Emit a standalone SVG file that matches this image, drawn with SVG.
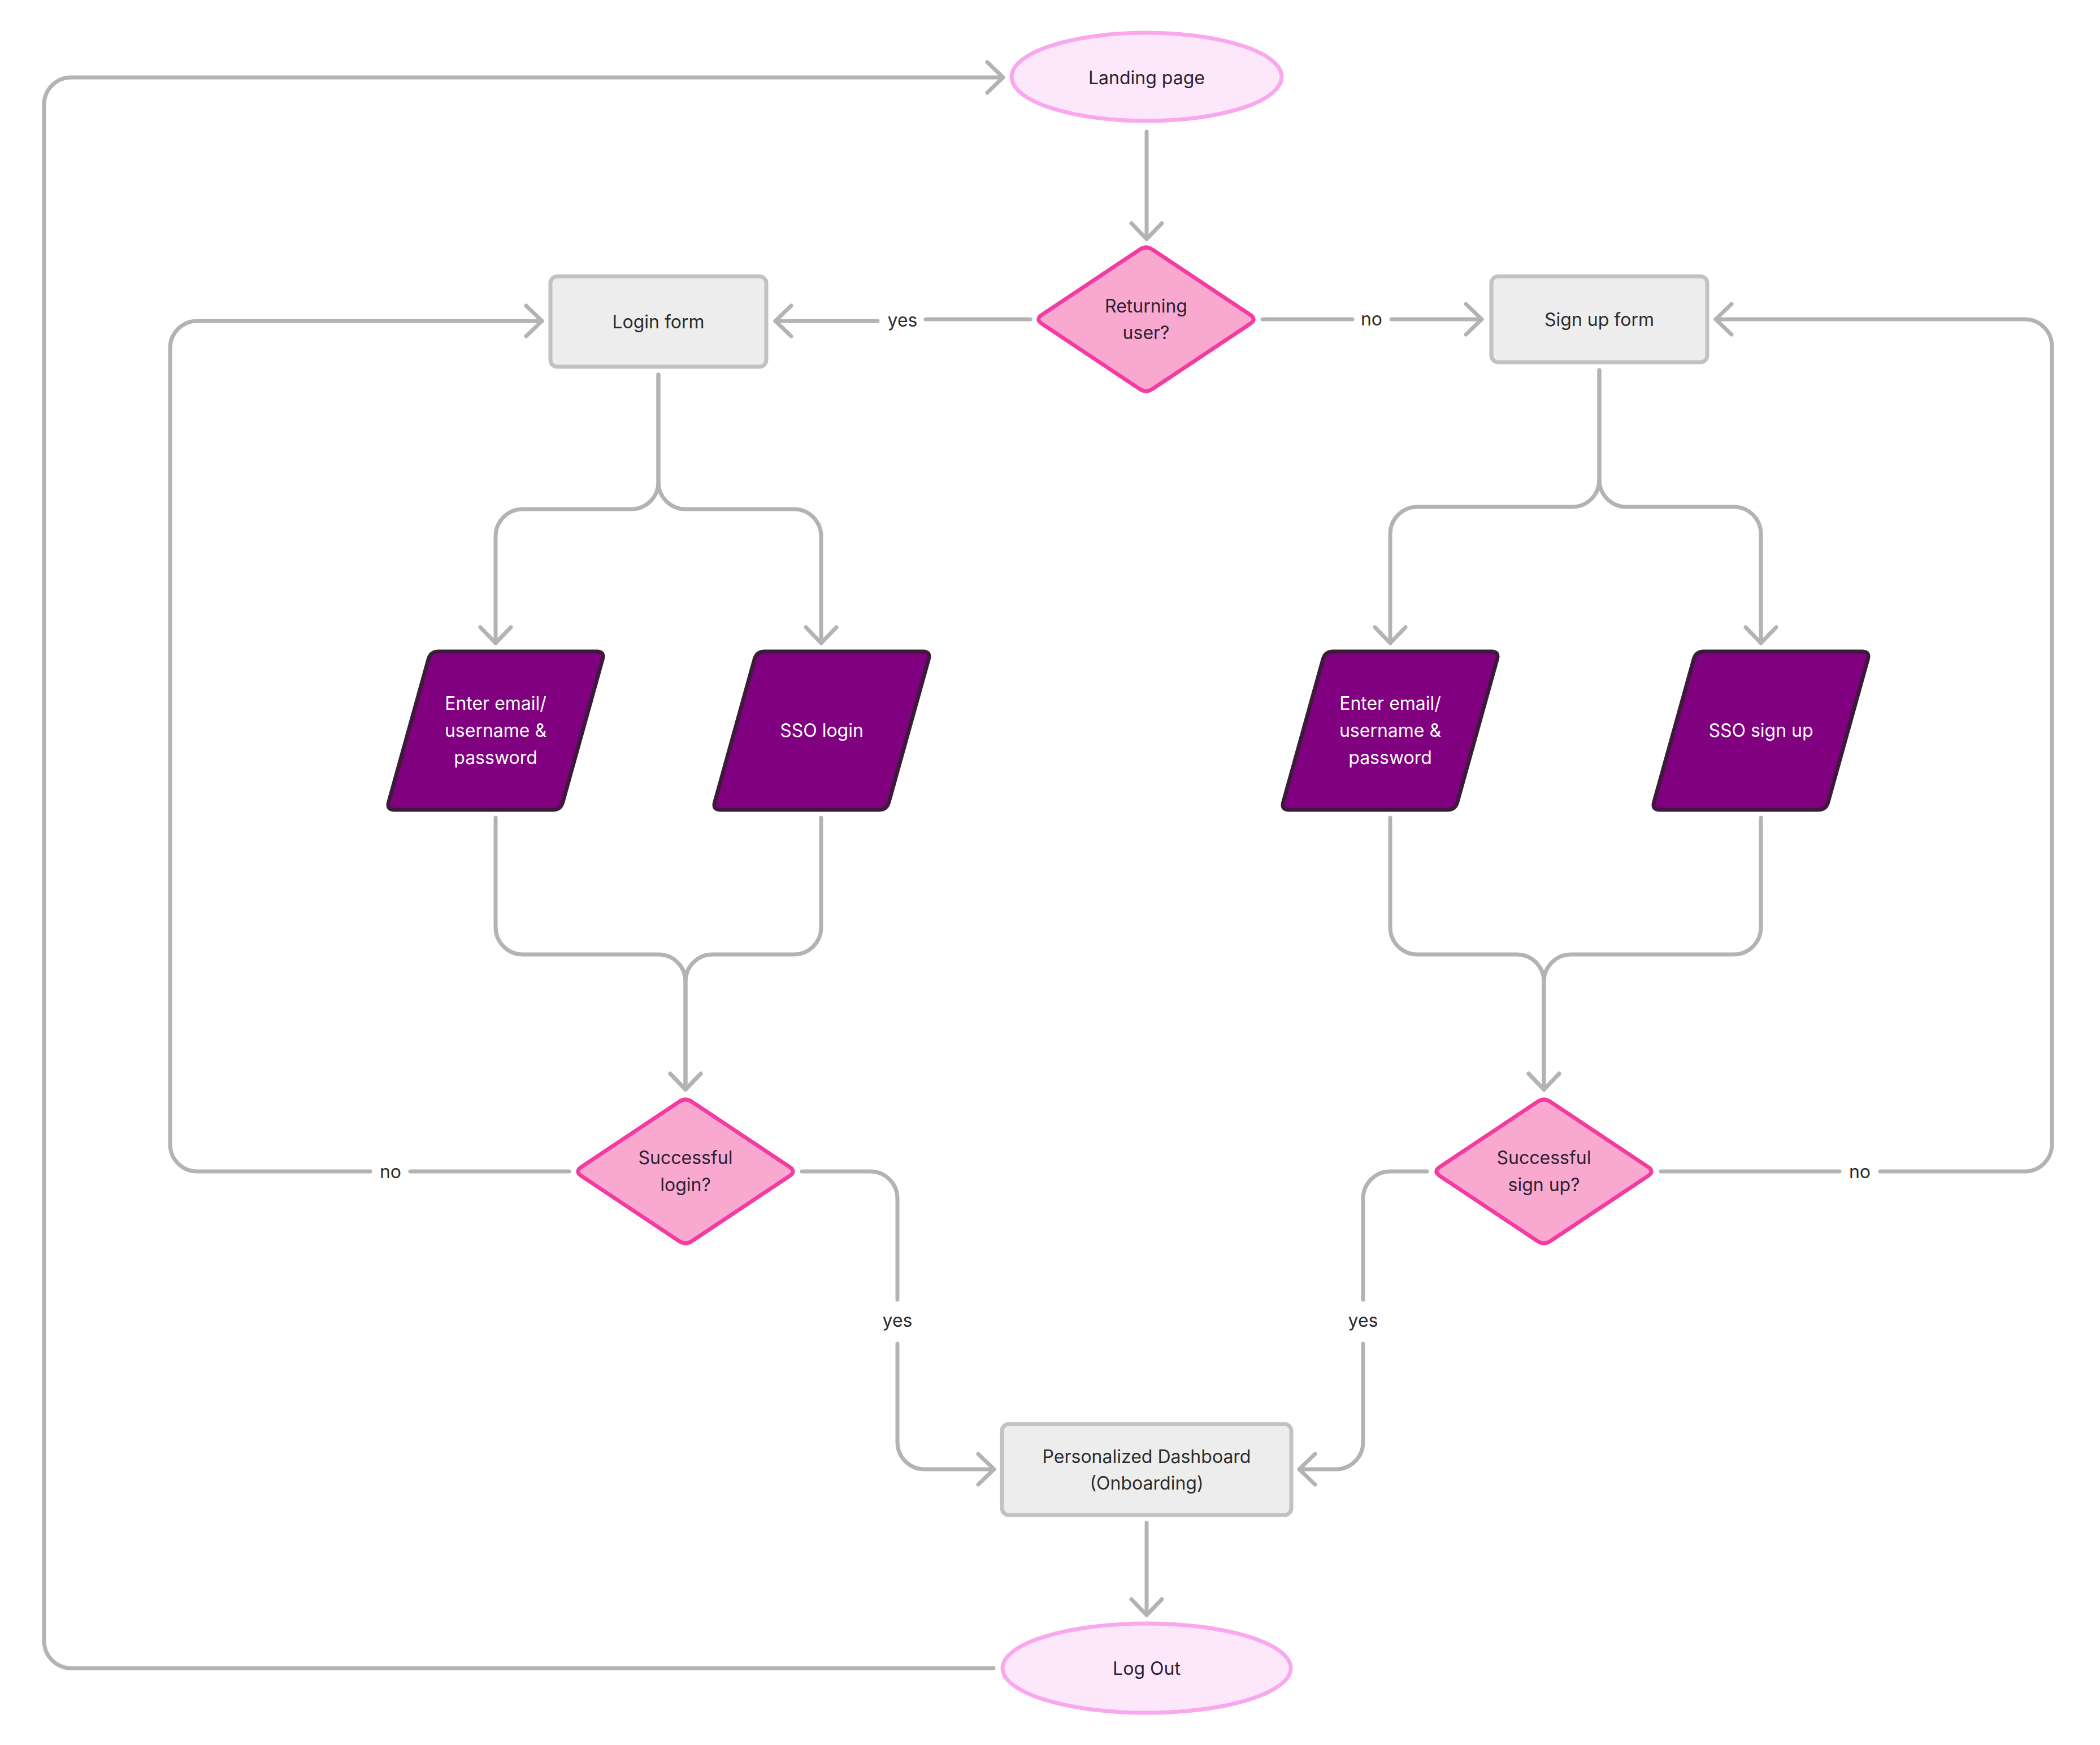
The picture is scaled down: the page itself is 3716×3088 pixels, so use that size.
<svg xmlns="http://www.w3.org/2000/svg" width="3716" height="3088" viewBox="0 0 3716 3088">
  <style>
    .conn { fill: none; stroke: #B3B3B3; stroke-width: 7; stroke-linecap: round; stroke-linejoin: round; }
    .arrow { marker-end: url(#chevron); }
    .terminal { fill: #FDE7FB; stroke: #FAA8EE; stroke-width: 7; }
    .decision { fill: #F9A8D0; stroke: #F43BA2; stroke-width: 7; stroke-linejoin: round; }
    .process { fill: #EDEDED; stroke: #C2C2C2; stroke-width: 7; }
    .input { fill: #800080; stroke: #3D1A3C; stroke-width: 7; stroke-linejoin: round; }
    text { font-family: Inter, "Noto Sans", "Liberation Sans", sans-serif; font-size: 32px; text-anchor: middle; }
    .dark { fill: #2B2B2B; }
    .pinkText { fill: #2C2130; }
    .light { fill: #FFFFFF; }
    .label { fill: #2B2B2B; }
  </style>
  <defs>
    <marker id="chevron" markerUnits="userSpaceOnUse" viewBox="-40 -40 80 80" markerWidth="80" markerHeight="80" refX="0" refY="0" orient="auto" overflow="visible">
      <path d="M -28,-27 L 0,0 L -28,27" fill="none" stroke="#B3B3B3" stroke-width="7" stroke-linecap="round" stroke-linejoin="round"/>
    </marker>
    <path id="diamondShape" d="M 11.6,-123.2 L 184.4,-7.8 Q 196,0 184.4,7.8 L 11.6,123.2 Q 0,131 -11.6,123.2 L -184.4,7.8 Q -196,0 -184.4,-7.8 L -11.6,-123.2 Q 0,-131 11.6,-123.2 Z"/>
    <path id="paraShape" d="M -101,-140 L 179,-140 Q 193,-140 189.2,-126.5 L 118.8,126.5 Q 115,140 101,140 L -179,140 Q -193,140 -189.2,126.5 L -118.8,-126.5 Q -115,-140 -101,-140 Z"/>
  </defs>

  <rect width="3716" height="3088" fill="#FFFFFF"/>

  <!-- connectors -->
  <g id="connectors">
    <!-- landing page to returning user -->
    <path class="conn arrow" d="M 2029,233 V 423"/>
    <!-- returning user: yes -> login form -->
    <path class="conn" d="M 1823,565 H 1638"/>
    <path class="conn arrow" d="M 1553,568 H 1372"/>
    <!-- returning user: no -> sign up form -->
    <path class="conn" d="M 2234,565 H 2393"/>
    <path class="conn arrow" d="M 2462,565 H 2622"/>
    <!-- login form split -->
    <path class="conn arrow" d="M 1165,663 V 853 A 48 48 0 0 1 1117,901 H 925 A 48 48 0 0 0 877,949 V 1138"/>
    <path class="conn arrow" d="M 1165,663 V 853 A 48 48 0 0 0 1213,901 H 1405 A 48 48 0 0 1 1453,949 V 1138"/>
    <!-- sign up form split -->
    <path class="conn arrow" d="M 2830,655 V 849 A 48 48 0 0 1 2782,897 H 2508 A 48 48 0 0 0 2460,945 V 1138"/>
    <path class="conn arrow" d="M 2830,655 V 849 A 48 48 0 0 0 2878,897 H 3068 A 48 48 0 0 1 3116,945 V 1138"/>
    <!-- login inputs merge -->
    <path class="conn arrow" d="M 877,1447 V 1641 A 48 48 0 0 0 925,1689 H 1165 A 48 48 0 0 1 1213,1737 V 1928"/>
    <path class="conn arrow" d="M 1453,1447 V 1641 A 48 48 0 0 1 1405,1689 H 1261 A 48 48 0 0 0 1213,1737 V 1928"/>
    <!-- sign up inputs merge -->
    <path class="conn arrow" d="M 2460,1447 V 1641 A 48 48 0 0 0 2508,1689 H 2684 A 48 48 0 0 1 2732,1737 V 1928"/>
    <path class="conn arrow" d="M 3116,1447 V 1641 A 48 48 0 0 1 3068,1689 H 2780 A 48 48 0 0 0 2732,1737 V 1928"/>
    <!-- successful login: no -> back to login form -->
    <path class="conn" d="M 1007,2073 H 726"/>
    <path class="conn arrow" d="M 655,2073 H 349 A 48 48 0 0 1 301,2025 V 616 A 48 48 0 0 1 349,568 H 959"/>
    <!-- successful login: yes -> dashboard -->
    <path class="conn" d="M 1419,2073 H 1540 A 48 48 0 0 1 1588,2121 V 2300"/>
    <path class="conn arrow" d="M 1588,2378 V 2552 A 48 48 0 0 0 1636,2600 H 1759"/>
    <!-- successful sign up: yes -> dashboard -->
    <path class="conn" d="M 2525,2073 H 2460 A 48 48 0 0 0 2412,2121 V 2300"/>
    <path class="conn arrow" d="M 2412,2378 V 2552 A 48 48 0 0 1 2364,2600 H 2299"/>
    <!-- successful sign up: no -> back to sign up form -->
    <path class="conn" d="M 2939,2073 H 3255"/>
    <path class="conn arrow" d="M 3327,2073 H 3583 A 48 48 0 0 0 3631,2025 V 613 A 48 48 0 0 0 3583,565 H 3036"/>
    <!-- dashboard to log out -->
    <path class="conn arrow" d="M 2029,2695 V 2858"/>
    <!-- log out back to landing page -->
    <path class="conn arrow" d="M 1758,2952 H 126 A 48 48 0 0 1 78,2904 V 185 A 48 48 0 0 1 126,137 H 1775"/>

    <!-- edge labels -->
    <text class="label" x="1597" y="578">yes</text>
    <text class="label" x="2427" y="576">no</text>
    <text class="label" x="691" y="2085">no</text>
    <text class="label" x="3291" y="2085">no</text>
    <text class="label" x="1588" y="2348">yes</text>
    <text class="label" x="2412" y="2348">yes</text>
  </g>

  <!-- nodes -->
  <g id="landing-page">
    <ellipse class="terminal" cx="2029" cy="136" rx="239" ry="78"/>
    <text class="pinkText" x="2029" y="149">Landing page</text>
  </g>

  <g id="returning-user" transform="translate(2028,565)">
    <use href="#diamondShape" class="decision"/>
    <text class="pinkText" x="0" y="-12">Returning</text>
    <text class="pinkText" x="0" y="35">user?</text>
  </g>

  <g id="login-form">
    <rect class="process" x="974" y="489" width="382" height="160" rx="12"/>
    <text class="dark" x="1165" y="581">Login form</text>
  </g>

  <g id="signup-form">
    <rect class="process" x="2639" y="489" width="382" height="152" rx="12"/>
    <text class="dark" x="2830" y="577">Sign up form</text>
  </g>

  <g id="login-credentials" transform="translate(877,1293)">
    <use href="#paraShape" class="input"/>
    <text class="light" x="0" y="-37">Enter email/</text>
    <text class="light" x="0" y="11">username &amp;</text>
    <text class="light" x="0" y="59">password</text>
  </g>

  <g id="sso-login" transform="translate(1454,1293)">
    <use href="#paraShape" class="input"/>
    <text class="light" x="0" y="11">SSO login</text>
  </g>

  <g id="signup-credentials" transform="translate(2460,1293)">
    <use href="#paraShape" class="input"/>
    <text class="light" x="0" y="-37">Enter email/</text>
    <text class="light" x="0" y="11">username &amp;</text>
    <text class="light" x="0" y="59">password</text>
  </g>

  <g id="sso-signup" transform="translate(3116,1293)">
    <use href="#paraShape" class="input"/>
    <text class="light" x="0" y="11">SSO sign up</text>
  </g>

  <g id="successful-login" transform="translate(1213,2073)">
    <use href="#diamondShape" class="decision"/>
    <text class="pinkText" x="0" y="-13">Successful</text>
    <text class="pinkText" x="0" y="35">login?</text>
  </g>

  <g id="successful-signup" transform="translate(2732,2073)">
    <use href="#diamondShape" class="decision"/>
    <text class="pinkText" x="0" y="-13">Successful</text>
    <text class="pinkText" x="0" y="35">sign up?</text>
  </g>

  <g id="dashboard">
    <rect class="process" x="1773" y="2520" width="512" height="161" rx="12"/>
    <text class="dark" x="2029" y="2589">Personalized Dashboard</text>
    <text class="dark" x="2029" y="2636">(Onboarding)</text>
  </g>

  <g id="log-out">
    <ellipse class="terminal" cx="2029" cy="2952" rx="255" ry="79"/>
    <text class="pinkText" x="2029" y="2964">Log Out</text>
  </g>
</svg>
